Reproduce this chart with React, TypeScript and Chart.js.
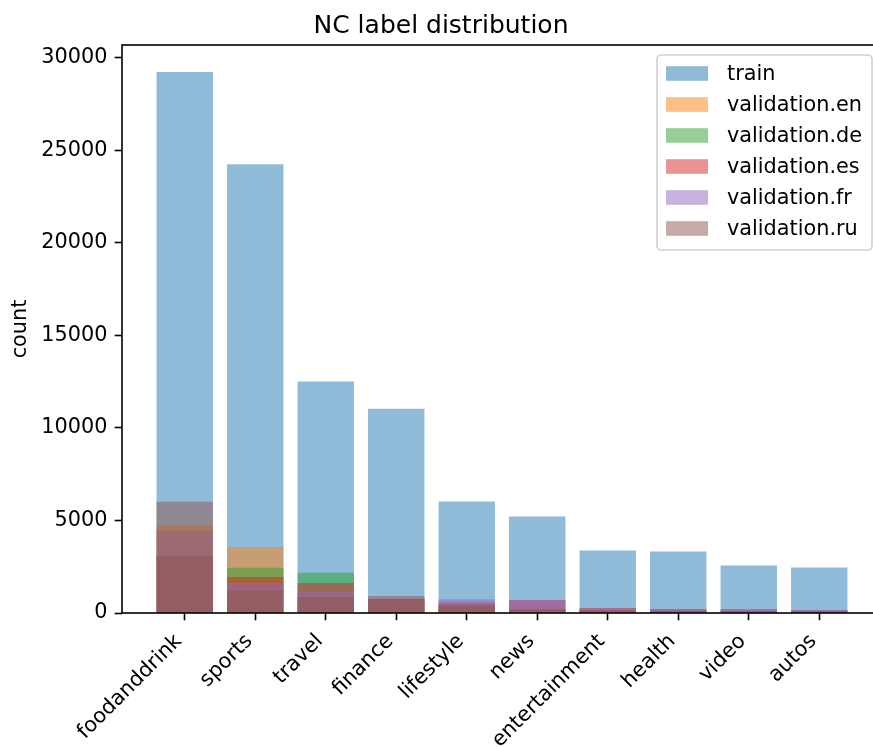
import React, { useEffect, useRef } from 'react';
import { Chart, registerables } from 'chart.js';

Chart.register(...registerables);

const categories = ['foodanddrink', 'sports', 'travel', 'finance', 'lifestyle', 'news', 'entertainment', 'health', 'video', 'autos'];
const seriesLabels = ['train', 'validation.en', 'validation.de', 'validation.es', 'validation.fr', 'validation.ru'];
const train = [29240, 24260, 12510, 11040, 6030, 5220, 3380, 3320, 2570, 2460];
const valEn = [4710, 3570, 870, 760, 310, 190, 140, 110, 100, 80];
const valDe = [3100, 2450, 2170, 760, 320, 200, 150, 120, 110, 90];
const valEs = [3090, 1950, 1620, 760, 580, 690, 270, 210, 200, 150];
const valFr = [4440, 1620, 1150, 760, 740, 700, 260, 200, 190, 160];
const valRu = [6010, 1200, 870, 920, 450, 200, 150, 110, 100, 90];
const yTicks = [0, 5000, 10000, 15000, 20000, 25000, 30000];
const colors = [
  'rgba(31,119,180,0.5)',
  'rgba(255,127,14,0.5)',
  'rgba(44,160,44,0.5)',
  'rgba(214,39,40,0.5)',
  'rgba(148,103,189,0.5)',
  'rgba(140,86,75,0.5)',
];

const FONT = '"DejaVu Sans", "Liberation Sans", sans-serif';

const spinePlugin = {
  id: 'mplSpines',
  afterDatasetsDraw(chart: any) {
    const { ctx, chartArea } = chart;
    ctx.save();
    ctx.strokeStyle = '#000';
    ctx.lineWidth = 1.6;
    ctx.strokeRect(chartArea.left, chartArea.top, chartArea.right - chartArea.left, chartArea.bottom - chartArea.top);
    ctx.restore();
  },
};

const legendPlugin = {
  id: 'mplLegend',
  afterDraw(chart: any) {
    const { ctx, chartArea } = chart;
    const w = 215;
    const h = 195;
    const x0 = chartArea.right - 10 - w;
    const y0 = chartArea.top + 10;
    ctx.save();
    ctx.beginPath();
    const r = 4;
    ctx.moveTo(x0 + r, y0);
    ctx.lineTo(x0 + w - r, y0);
    ctx.arcTo(x0 + w, y0, x0 + w, y0 + r, r);
    ctx.lineTo(x0 + w, y0 + h - r);
    ctx.arcTo(x0 + w, y0 + h, x0 + w - r, y0 + h, r);
    ctx.lineTo(x0 + r, y0 + h);
    ctx.arcTo(x0, y0 + h, x0, y0 + h - r, r);
    ctx.lineTo(x0, y0 + r);
    ctx.arcTo(x0, y0, x0 + r, y0, r);
    ctx.closePath();
    ctx.fillStyle = 'rgba(255,255,255,0.8)';
    ctx.fill();
    ctx.strokeStyle = 'rgba(204,204,204,0.9)';
    ctx.lineWidth = 1.6;
    ctx.stroke();
    ctx.font = `20.8px ${FONT}`;
    ctx.textBaseline = 'middle';
    ctx.textAlign = 'left';
    chart.data.datasets.forEach((ds: any, i: number) => {
      const cy = y0 + 18.5 + i * 31;
      ctx.fillStyle = ds.backgroundColor;
      ctx.fillRect(x0 + 9, cy - 7.3, 42, 14.6);
      ctx.fillStyle = '#000';
      ctx.fillText(ds.label, x0 + 70, cy + 1);
    });
    ctx.restore();
  },
};

export default function App() {
  const ref = useRef<HTMLCanvasElement>(null);

  useEffect(() => {
    const canvas = ref.current;
    if (!canvas) return;
    Chart.defaults.font.family = FONT;
    Chart.defaults.color = '#000';
    const allSeries = [train, valEn, valDe, valEs, valFr, valRu];
    const chart = new Chart(canvas, {
      type: 'bar',
      data: {
        datasets: allSeries.map((vals, k) => ({
          label: seriesLabels[k],
          data: vals.map((v, i) => ({ x: i, y: v })),
          backgroundColor: colors[k],
          borderWidth: 0,
          barPercentage: 0.8,
          categoryPercentage: 1,
          grouped: false,
          inflateAmount: 0,
          order: 6 - k,
        })),
      },
      options: {
        responsive: false,
        animation: false,
        devicePixelRatio: 1,
        layout: { padding: { left: 0, right: 18, top: 0, bottom: 0 } },
        plugins: {
          legend: { display: false },
          tooltip: { enabled: false },
          title: {
            display: true,
            text: 'NC label distribution',
            color: '#000',
            font: { size: 25, weight: 'normal', family: FONT },
            padding: { top: 11.5, bottom: 3.5 },
          },
        },
        scales: {
          x: {
            type: 'linear',
            min: -0.89,
            max: 9.89,
            offset: false,
            grid: { offset: false, drawOnChartArea: false, drawTicks: true, tickLength: 7.3, tickWidth: 1.6, tickColor: '#000' },
            border: { display: false },
            ticks: {
              autoSkip: false,
              minRotation: 45,
              maxRotation: 45,
              padding: 9,
              labelOffset: -6,
              color: '#000',
              font: { size: 20.8, family: FONT },
              callback: (v: any) => categories[v as number] ?? '',
            },
            afterBuildTicks: (s: any) => {
              s.ticks = categories.map((_, i) => ({ value: i }));
            },
            afterFit: (s: any) => {
              s.height = 134;
            },
          },
          y: {
            min: 0,
            max: 30700,
            grid: { drawOnChartArea: false, drawTicks: true, tickLength: 7.3, tickWidth: 1.6, tickColor: '#000' },
            border: { display: false },
            ticks: {
              padding: 7.3,
              color: '#000',
              font: { size: 20.8, family: FONT },
              callback: (v: any) => String(v),
            },
            afterBuildTicks: (s: any) => {
              s.ticks = yTicks.map((v) => ({ value: v }));
            },
            afterFit: (s: any) => {
              s.width = 122;
            },
            title: {
              display: true,
              text: 'count',
              color: '#000',
              font: { size: 20.8, family: FONT },
              padding: { top: 8, bottom: 6 },
            },
          },
        },
      } as any,
      plugins: [spinePlugin, legendPlugin],
    });
    return () => chart.destroy();
  }, []);

  return (
    <div style={{ position: 'fixed', left: 0, top: 0, width: 873, height: 747, overflow: 'hidden', background: '#fff' }}>
      <canvas ref={ref} width={900} height={747} style={{ width: 900, height: 747, display: 'block' }} />
    </div>
  );
}
